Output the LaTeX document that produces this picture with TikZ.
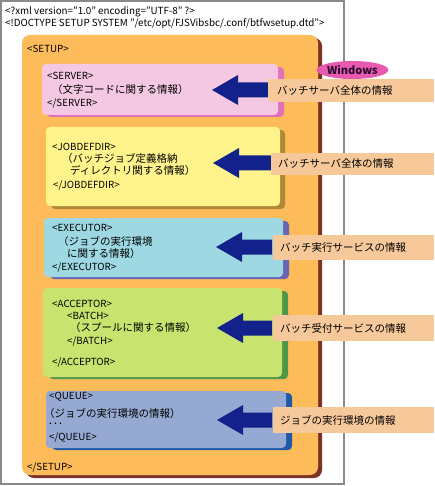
\documentclass[tikz,border=0pt]{standalone}
\usepackage{fontspec}
\setmainfont{Noto Sans CJK JP}
\usetikzlibrary{shapes.geometric}
\definecolor{framegray}{HTML}{8A8A8A}
\definecolor{setupfill}{HTML}{FDBB5A}
\definecolor{setupshadow}{HTML}{7B3325}
\definecolor{pinkfill}{HTML}{F4C8E2}
\definecolor{pinkshadow}{HTML}{E070B8}
\definecolor{yellowfill}{HTML}{FFF48C}
\definecolor{yellowshadow}{HTML}{B08838}
\definecolor{cyanfill}{HTML}{9ED8E2}
\definecolor{cyanshadow}{HTML}{6A64B4}
\definecolor{greenfill}{HTML}{C8E46E}
\definecolor{greenshadow}{HTML}{4E9648}
\definecolor{queuefill}{HTML}{95A9D2}
\definecolor{queueshadow}{HTML}{1E5AA8}
\definecolor{arrowblue}{HTML}{13228B}
\definecolor{labelfill}{HTML}{F7C99A}
\definecolor{winfill}{HTML}{E85AAF}
\definecolor{wintext}{HTML}{2A0A30}
\tikzset{
  txt/.style={anchor=west,inner sep=0pt,font=\fontsize{9.8}{12}\selectfont},
  jtxt/.style={anchor=west,inner sep=0pt,font=\fontsize{10.5}{12}\selectfont},
}
\newcommand{\infoarrow}[2]{% tip x, tip y
  \fill[arrowblue] (#1,#2) -- ++(26,-15) -- ++(0,7.5) -- (272,#2-7.5) -- (272,#2+7.5) -- (#1+26,#2+7.5) -- (#1+26,#2+15) -- cycle;}
\begin{document}
\begin{tikzpicture}[x=1pt,y=-1pt]
\useasboundingbox (0,0) rectangle (434,486);
% outer frame
\draw[framegray,line width=2pt] (1,1) rectangle (344,484);
\node[txt] (xmldecl) at (5,11.5) {<?xml version="1.0" encoding="UTF-8" ?>};
\node[txt] (doctype) at (5,23.5) {<!DOCTYPE SETUP SYSTEM "/etc/opt/FJSVibsbc/.conf/btfwsetup.dtd">};
% setup box
\fill[setupshadow,rounded corners=8pt] (26,38) rectangle (322,478);
\fill[setupfill,rounded corners=8pt] (22,35) rectangle (318,475);
\node[txt] (setupopen) at (27,49) {<SETUP>};
\node[txt] (setupclose) at (27,467) {</SETUP>};
% SERVER
\fill[pinkshadow,rounded corners=4pt] (47,67) rectangle (284,117);
\fill[pinkfill,rounded corners=4pt] (42,64) rectangle (278,115);
\node[txt] (s1) at (47,76) {<SERVER>};
\node[jtxt] (s2) at (52,90) {（文字コードに関する情報）};
\node[txt] (s3) at (47,103) {</SERVER>};
% JOBDEFDIR
\fill[yellowshadow,rounded corners=4pt] (51,130) rectangle (285,209);
\fill[yellowfill,rounded corners=4pt] (46,127) rectangle (280,206);
\node[txt] (j1) at (52,147) {<JOBDEFDIR>};
\node[jtxt] (j2) at (62,158.5) {（バッチジョブ定義格納};
\node[jtxt] (j3) at (70,170.5) {ディレクトリ関する情報）};
\node[txt] (j4) at (53,185) {</JOBDEFDIR>};
% EXECUTOR
\fill[cyanshadow,rounded corners=4pt] (50,221) rectangle (289,279);
\fill[cyanfill,rounded corners=4pt] (44,218) rectangle (283,277);
\node[txt] (e1) at (52,228) {<EXECUTOR>};
\node[jtxt] (e2) at (58,242) {（ジョブの実行環境};
\node[jtxt] (e3) at (67,254) {に関する情報）};
\node[txt] (e4) at (52,267) {</EXECUTOR>};
% ACCEPTOR
\fill[greenshadow,rounded corners=4pt] (49,291) rectangle (288,379);
\fill[greenfill,rounded corners=4pt] (43,288) rectangle (282,377);
\node[txt] (a1) at (52,304) {<ACCEPTOR>};
\node[txt] (a2) at (67,316) {<BATCH>};
\node[jtxt] (a3) at (70,328) {（スプールに関する情報）};
\node[txt] (a4) at (67,341) {</BATCH>};
\node[txt] (a5) at (52,362) {</ACCEPTOR>};
% QUEUE
\fill[queueshadow,rounded corners=4pt] (52,393) rectangle (292,450);
\fill[queuefill,rounded corners=4pt] (46,391) rectangle (286,448);
\node[txt] (q1) at (49,397) {<QUEUE>};
\node[jtxt] (q2) at (44,413) {（ジョブの実行環境の情報）};
\node[txt] (q3) at (48,425) {･･･};
\node[txt] (q4) at (49,438) {</QUEUE>};
% arrows
\infoarrow{212}{90}
\infoarrow{213}{163}
\infoarrow{216}{247}
\infoarrow{217}{328}
\infoarrow{217}{420}
% Windows
\node[ellipse,fill=winfill,minimum width=65pt,minimum height=18pt,inner sep=0pt,font=\fontsize{11}{12}\selectfont\bfseries,text=wintext] (win) at (352.5,70) {Windows};
% labels
\fill[labelfill] (268,79) rectangle (434,102);
\node[jtxt] (l1) at (277,90.5) {バッチサーバ全体の情報};
\fill[labelfill] (271,153) rectangle (434,175);
\node[jtxt] (l2) at (278,164) {バッチサーバ全体の情報};
\fill[labelfill] (273,235) rectangle (434,260);
\node[jtxt] (l3) at (280,247.5) {バッチ実行サービスの情報};
\fill[labelfill] (273,315) rectangle (434,341);
\node[jtxt] (l4) at (280,328) {バッチ受付サービスの情報};
\fill[labelfill] (273,407) rectangle (434,433);
\node[jtxt] (l5) at (280,420) {ジョブの実行環境の情報};
\end{tikzpicture}
\end{document}
